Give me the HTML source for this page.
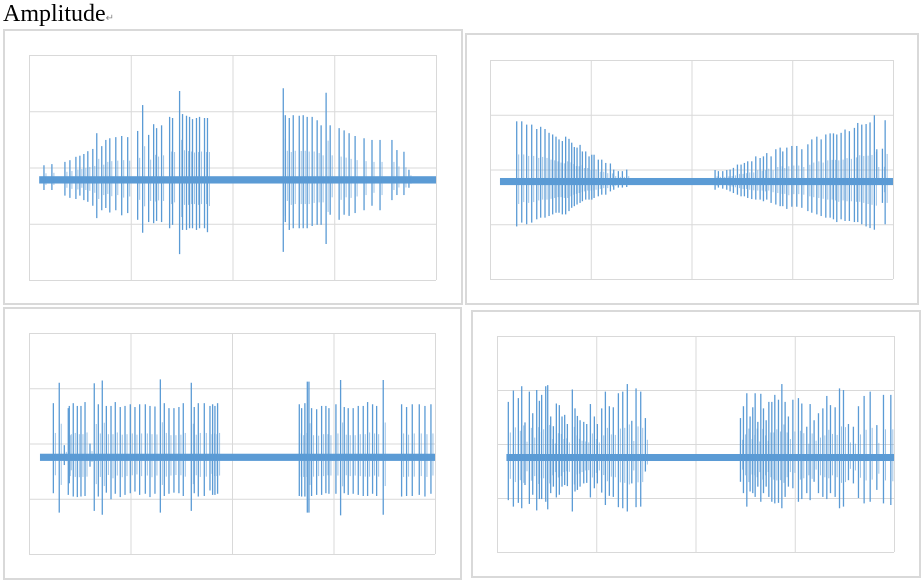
<!DOCTYPE html>
<html><head><meta charset="utf-8"><style>
body{margin:0;background:#fff;width:923px;height:581px;overflow:hidden;position:relative;font-family:"Liberation Serif",serif}
#title{position:absolute;left:3px;top:0px;font-size:24px;line-height:28px;color:#000}
#title span{font-size:10px;color:#888}
svg{position:absolute;left:0;top:0}
</style></head><body>
<div id="title">Amplitude<span>↵</span></div>
<svg id="chart" width="923" height="581"></svg>
<script>
// Panel 1 data (time samples 0..4000, amplitude -2..2)
const p1T=[147,225,353,402,461,500,539,578,627,666,715,755,794,853,911,970,1068,1117,1176,1225,1254,1303,1382,1411,1480,1509,1548,1578,1607,1646,1676,1725,1754,2499,2519,2558,2597,2656,2695,2734,2783,2832,2871,2920,2960,3048,3097,3146,3205,3293,3371,3450,3567,3616,3685,3734];
const p1Up=[.04,.06,.10,.13,.19,.21,.24,.29,.33,.61,.38,.49,.52,.54,.56,.54,.65,1.11,.58,.77,.70,.75,.90,.88,1.36,.95,.92,.90,.86,.88,.90,.88,.88,1.41,.93,.88,.93,.92,.93,.90,.90,.84,.75,1.33,.75,.70,.66,.61,.56,.52,.49,.49,.49,.31,.28,-.04];
const p1Dn=[-.40,-.40,-.50,-.54,-.56,-.50,-.58,-.61,-.68,-.90,-.76,-.72,-.80,-.76,-.85,-.81,-.93,-1.16,-.97,-.99,-.95,-.97,-1.08,-1.02,-1.54,-1.11,-1.11,-1.08,-1.08,-1.11,-1.08,-1.08,-1.15,-1.50,-.97,-1.11,-1.08,-1.08,-1.08,-1.08,-1.04,-1.02,-1.02,-1.36,-.84,-.93,-.84,-.86,-.81,-.76,-.68,-.76,-.58,-.49,-.49,-.36];
// Panel 2
const p2T=[265,315,364,414,464,503,546,586,622,655,685,718,751,784,811,837,864,894,917,950,983,1010,1033,1075,1109,1149,1195,1228,1274,1314,1357,2234,2267,2310,2350,2383,2416,2456,2492,2525,2558,2598,2638,2681,2714,2747,2790,2837,2880,2906,2946,2996,3045,3095,3155,3194,3244,3287,3333,3376,3409,3442,3485,3524,3567,3617,3650,3690,3733,3772,3815,3839,3895,3922];
const p2Up=[.88,.88,.82,.82,.74,.78,.74,.67,.64,.60,.55,.52,.60,.56,.49,.41,.40,.45,.33,.33,.24,.27,.27,.18,.18,.12,.11,0,-.03,-.03,0,-.01,-.03,-.03,-.01,0,.03,.09,.09,.12,.15,.15,.24,.21,.24,.30,.24,.37,.40,.33,.40,.43,.43,.37,.46,.55,.60,.55,.64,.66,.66,.64,.67,.73,.70,.76,.85,.82,.83,.86,.99,.37,.38,.90];
const p2Dn=[-1.04,-.97,-1.00,-.97,-.91,-.88,-.88,-.85,-.82,-.79,-.79,-.82,-.82,-.76,-.70,-.67,-.64,-.61,-.58,-.55,-.55,-.55,-.52,-.49,-.46,-.46,-.40,-.37,-.33,-.33,-.32,-.37,-.33,-.35,-.37,-.40,-.43,-.46,-.49,-.49,-.52,-.54,-.55,-.55,-.58,-.55,-.61,-.64,-.67,-.67,-.72,-.68,-.68,-.70,-.76,-.79,-.82,-.85,-.88,-.88,-.91,-.96,-.91,-.94,-.94,-.96,-.96,-1.00,-1.04,-1.07,-1.10,-.21,-.61,-1.00];
// Panel 3
const p3T=[240,298,348,387,397,436,476,512,552,601,643,683,722,762,808,850,899,946,998,1044,1090,1146,1192,1241,1294,1333,1379,1428,1477,1520,1599,1628,1668,1727,1783,1809,1832,1858,2663,2686,2718,2742,2758,2784,2834,2883,2925,2955,3024,3070,3106,3145,3194,3244,3293,3336,3385,3425,3490,3671,3720,3776,3845,3901,3960];
const p3Up=[.73,1.10,-.03,.64,.68,.73,.68,.68,.75,0,1.09,.71,1.14,.68,.68,.75,.66,.68,.71,.66,.71,.71,.68,.67,1.16,.73,.64,.64,.66,.73,1.10,.66,.73,.73,.68,.71,.68,.73,.71,.64,.73,1.12,1.12,.64,.62,.68,.68,.64,.71,1.15,.66,.64,.64,.68,.68,.75,.71,.68,1.15,.71,.66,.71,.71,.68,.71];
const p3Dn=[-.90,-1.25,-.39,-.93,-.72,-.96,-.97,-.96,-.95,-.42,-1.22,-.96,-1.29,-.89,-1.01,-.91,-.97,-.93,-.90,-.87,-.93,-.91,-.97,-.91,-1.25,-.95,-.91,-.89,-.90,-.95,-1.22,-.90,-.96,-.95,-.85,-.93,-.93,-.91,-.95,-.96,-.96,-1.25,-1.25,-.95,-.93,-.93,-.90,-.91,-.91,-1.30,-.90,-.93,-.91,-.93,-.95,-.95,-.91,-.95,-1.29,-.96,-.95,-.95,-.93,-.96,-.91];
// Panel 4
const p4T=[114,165,215,249,282,326,360,400,427,450,491,511,541,568,598,628,655,682,709,759,786,810,837,874,904,941,981,1011,1055,1092,1132,1172,1223,1267,1313,1358,1401,1448,1495,2453,2483,2517,2550,2577,2601,2628,2658,2685,2712,2739,2769,2799,2836,2870,2903,2936,2981,3037,3071,3121,3155,3195,3239,3283,3323,3360,3407,3451,3491,3541,3591,3642,3699,3760,3827,3894,3968];
const p4Up=[.78,.99,.85,1.07,.40,.97,.57,1.00,.80,.91,1.07,1.09,.51,.33,.75,.72,.51,.54,.37,1.01,.66,.52,.44,.41,.37,.74,.51,.37,.66,.97,.70,.68,.94,.97,1.11,.43,1.03,.97,.48,.48,.70,.94,.51,.68,.94,.41,.93,.66,.44,.78,.78,.91,.82,1.11,.78,.51,.82,.85,.75,.32,.74,.44,.57,.66,.89,.72,.68,1.03,1.00,.37,.32,.70,.89,.97,.35,.91,.91];
const p4Dn=[-1.04,-1.16,-1.09,-1.19,-.76,-1.11,-.94,-1.23,-1.02,-1.02,-1.07,-1.21,-.91,-.79,-.99,-.94,-.79,-.76,-.78,-1.25,-.88,-.85,-.79,-.73,-.72,-.99,-.82,-.73,-.90,-1.13,-.96,-.98,-1.17,-1.19,-1.25,-.73,-1.17,-1.16,-.51,-.70,-.91,-1.16,-.88,-.91,-.98,-.79,-1.07,-.91,-.79,-.98,-1.07,-1.10,-1.09,-1.19,-.98,-.79,-.82,-1.07,-1.02,-.91,-1.04,-.70,-.91,-.98,-1.02,-.91,-.98,-1.19,-1.16,-.67,-.73,-1.00,-1.10,-1.07,-.85,-1.10,-1.13];
const p1Base=-0.22, p2Base=-0.22, p3Base=-0.25, p4Base=-0.25;
const p1Start=100, p2Start=99, p3Start=108, p4Start=95;
const xTicks=[0,1000,2000,3000,4000];
const yTicks=[-2,-1,0,1,2];

const NS='http://www.w3.org/2000/svg';
const svg=document.getElementById('chart');
function mk(tag,attrs,parent){const e=document.createElementNS(NS,tag);for(const k in attrs)e.setAttribute(k,attrs[k]);(parent||svg).appendChild(e);return e;}

const panels=[
 {box:[3,29,460,276],plot:[29,55,436,280],T:p1T,U:p1Up,D:p1Dn,base:p1Base,start:p1Start,name:'panel-1'},
 {box:[465,33,454,272],plot:[490,60,893,279],T:p2T,U:p2Up,D:p2Dn,base:p2Base,start:p2Start,name:'panel-2'},
 {box:[3,307,459,273],plot:[29,333,435,554],T:p3T,U:p3Up,D:p3Dn,base:p3Base,start:p3Start,name:'panel-3'},
 {box:[471,310,450,268],plot:[497,336,894,552],T:p4T,U:p4Up,D:p4Dn,base:p4Base,start:p4Start,name:'panel-4'}
];
panels.forEach(p=>{
 const g=mk('g',{});
 
 
 const box=mk('rect',{x:p.box[0]+1,y:p.box[1]+1,width:p.box[2]-2,height:p.box[3]-2,fill:'#fff',stroke:'#d9d9d9','stroke-width':2},g);
 
 
 const [x0,y0,x1,y1]=p.plot;
 const xs=t=>x0+(t-xTicks[0])/(xTicks[xTicks.length-1]-xTicks[0])*(x1-x0);
 const ys=v=>y1-(v-yTicks[0])/(yTicks[yTicks.length-1]-yTicks[0])*(y1-y0);
 xTicks.forEach(t=>{const l=mk('line',{x1:xs(t)+.5,x2:xs(t)+.5,y1:y0,y2:y1,stroke:'#d9d9d9','stroke-width':1},g);
  
  });
 yTicks.forEach(v=>{const l=mk('line',{x1:x0,x2:x1,y1:ys(v)+.5,y2:ys(v)+.5,stroke:'#d9d9d9','stroke-width':1},g);
  
  });
 const band=mk('rect',{x:xs(p.start),y:ys(p.base+0.065),width:xs(4000)-xs(p.start),height:ys(p.base-0.065)-ys(p.base+0.065),fill:'#5b9bd5'},g);
 
 
 p.T.forEach((t,i)=>{
  const l=mk('line',{x1:xs(t),x2:xs(t),y1:ys(p.U[i]),y2:ys(p.D[i]),stroke:'#5b9bd5','stroke-width':1.3},g);
  
  
  const l2=mk('line',{x1:xs(t)+2,x2:xs(t)+2,y1:ys(p.base+(p.U[i]-p.base)*0.45),y2:ys(p.base+(p.D[i]-p.base)*0.5),stroke:'#5b9bd5','stroke-width':1,'stroke-opacity':0.6},g);
  
  
 });
});
</script>
</body></html>
